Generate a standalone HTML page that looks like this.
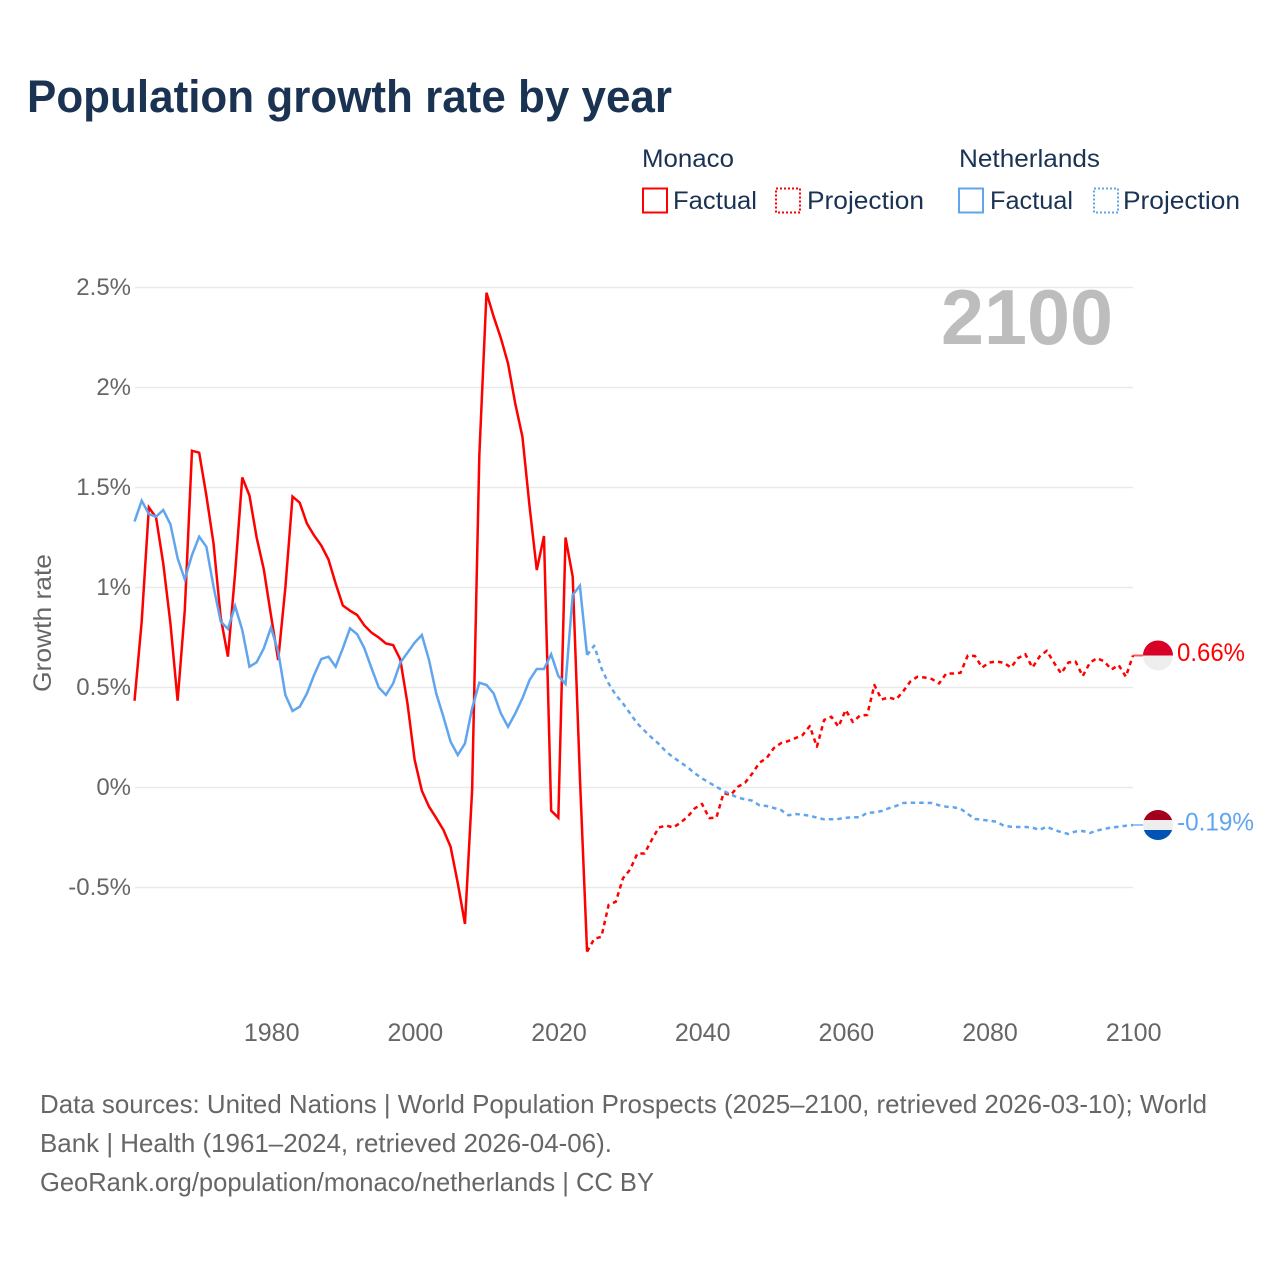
<!DOCTYPE html>
<html lang="en">
<head>
<meta charset="utf-8">
<title>Population growth rate by year</title>
<style>
html,body{margin:0;padding:0;background:#fff;}
svg{display:block;font-family:"Liberation Sans",sans-serif;}
</style>
</head>
<body>
<svg id="chart" xmlns="http://www.w3.org/2000/svg" width="1280" height="1280" viewBox="0 0 1280 1280">
  <defs>
    <clipPath id="flag-clip-mc"><circle id="flag-clip-mc-c" r="15"/></clipPath>
    <clipPath id="flag-clip-nl"><circle id="flag-clip-nl-c" r="15"/></clipPath>
  </defs>
  <text x="27" y="112" font-size="45" font-weight="700" fill="#1b3353" textLength="645" lengthAdjust="spacingAndGlyphs">Population growth rate by year</text>

  <g fill="#1b3353" font-size="25">
    <text x="642" y="167" textLength="92" lengthAdjust="spacingAndGlyphs">Monaco</text>
    <text x="959" y="167" textLength="141" lengthAdjust="spacingAndGlyphs">Netherlands</text>
    <rect x="643" y="188.5" width="24" height="24" fill="none" stroke="#ff0000" stroke-width="2"/>
    <text x="673" y="209" textLength="84" lengthAdjust="spacingAndGlyphs">Factual</text>
    <rect x="776" y="188.5" width="24" height="24" fill="none" stroke="#ff0000" stroke-width="2" stroke-dasharray="2 2"/>
    <text x="807" y="209" textLength="117" lengthAdjust="spacingAndGlyphs">Projection</text>
    <rect x="959" y="188.5" width="24" height="24" fill="none" stroke="#60a5ee" stroke-width="2"/>
    <text x="990" y="209" textLength="83" lengthAdjust="spacingAndGlyphs">Factual</text>
    <rect x="1094" y="188.5" width="24" height="24" fill="none" stroke="#60a5ee" stroke-width="2" stroke-dasharray="2 2"/>
    <text x="1123" y="209" textLength="117" lengthAdjust="spacingAndGlyphs">Projection</text>
  </g>

  <g id="grid"></g>
  <text x="941" y="344" font-size="78" font-weight="700" fill="#bdbdbd" textLength="172" lengthAdjust="spacingAndGlyphs">2100</text>
  <g id="ticks-y"></g>
  <g id="ticks-x"></g>
  <text transform="translate(51,692) rotate(-90)" font-size="25" fill="#666666" textLength="138" lengthAdjust="spacingAndGlyphs">Growth rate</text>
  <g id="series"></g>
  <g id="end-markers"></g>

  <g font-size="26" fill="#666666">
    <text x="40" y="1113" textLength="1167" lengthAdjust="spacingAndGlyphs">Data sources: United Nations | World Population Prospects (2025–2100, retrieved 2026-03-10); World</text>
    <text x="40" y="1152" textLength="572" lengthAdjust="spacingAndGlyphs">Bank | Health (1961–2024, retrieved 2026-04-06).</text>
    <text x="40" y="1191" textLength="614" lengthAdjust="spacingAndGlyphs">GeoRank.org/population/monaco/netherlands | CC BY</text>
  </g>
</svg>
<script>
const factualYears = [1961,1962,1963,1964,1965,1966,1967,1968,1969,1970,1971,1972,1973,1974,1975,1976,1977,1978,1979,1980,1981,1982,1983,1984,1985,1986,1987,1988,1989,1990,1991,1992,1993,1994,1995,1996,1997,1998,1999,2000,2001,2002,2003,2004,2005,2006,2007,2008,2009,2010,2011,2012,2013,2014,2015,2016,2017,2018,2019,2020,2021,2022,2023,2024];
const projectionYears = [2024,2025,2026,2027,2028,2029,2030,2031,2032,2033,2034,2035,2036,2037,2038,2039,2040,2041,2042,2043,2044,2045,2046,2047,2048,2049,2050,2051,2052,2053,2054,2055,2056,2057,2058,2059,2060,2061,2062,2063,2064,2065,2066,2067,2068,2069,2070,2071,2072,2073,2074,2075,2076,2077,2078,2079,2080,2081,2082,2083,2084,2085,2086,2087,2088,2089,2090,2091,2092,2093,2094,2095,2096,2097,2098,2099,2100];
const monacoFactual = [0.434,0.83,1.40,1.35,1.12,0.82,0.434,0.887,1.684,1.674,1.46,1.22,0.85,0.654,1.07,1.55,1.46,1.25,1.09,0.86,0.637,1.0,1.455,1.424,1.32,1.26,1.21,1.14,1.02,0.91,0.884,0.862,0.81,0.774,0.75,0.72,0.712,0.64,0.42,0.1375,-0.016,-0.096,-0.153,-0.212,-0.296,-0.478,-0.682,-0.0125,1.66,2.474,2.354,2.247,2.12,1.92,1.754,1.404,1.0875,1.2575,-0.116,-0.151,1.25,1.054,0.054,-0.821];
const monacoProjection = [-0.821,-0.757,-0.746,-0.587,-0.571,-0.454,-0.41,-0.33,-0.33,-0.262,-0.2,-0.19,-0.2,-0.176,-0.146,-0.104,-0.082,-0.153,-0.151,-0.028,-0.0375,0.004,0.024,0.07,0.124,0.147,0.197,0.222,0.232,0.247,0.262,0.307,0.204,0.3375,0.354,0.304,0.3875,0.3275,0.36,0.3625,0.5125,0.44,0.45,0.44,0.48,0.53,0.554,0.55,0.5425,0.52,0.57,0.57,0.574,0.66,0.6575,0.6,0.625,0.63,0.624,0.6,0.647,0.667,0.6,0.655,0.684,0.624,0.57,0.625,0.63,0.557,0.624,0.647,0.63,0.59,0.6125,0.554,0.66];
const netherlandsFactual = [1.33,1.434,1.3675,1.354,1.3875,1.316,1.146,1.04,1.1625,1.254,1.204,1.004,0.83,0.7925,0.9075,0.7875,0.604,0.626,0.696,0.8,0.68,0.4625,0.3825,0.404,0.47,0.5625,0.6425,0.654,0.604,0.696,0.796,0.766,0.696,0.596,0.5,0.4625,0.52,0.624,0.674,0.724,0.7625,0.6375,0.47,0.354,0.229,0.1625,0.22,0.396,0.524,0.5125,0.47,0.37,0.304,0.37,0.446,0.5375,0.5925,0.5925,0.666,0.5575,0.5175,0.9625,1.009,0.6625];
const netherlandsProjection = [0.6625,0.709,0.596,0.52,0.4625,0.42,0.37,0.32,0.284,0.249,0.2175,0.179,0.151,0.126,0.101,0.071,0.046,0.024,0.004,-0.0175,-0.034,-0.051,-0.059,-0.066,-0.089,-0.0925,-0.1025,-0.1125,-0.139,-0.1325,-0.136,-0.141,-0.151,-0.159,-0.159,-0.1575,-0.151,-0.149,-0.149,-0.126,-0.125,-0.1175,-0.104,-0.0925,-0.0775,-0.076,-0.076,-0.076,-0.0775,-0.089,-0.096,-0.099,-0.106,-0.1325,-0.1575,-0.161,-0.166,-0.171,-0.191,-0.196,-0.1975,-0.1975,-0.2,-0.2125,-0.196,-0.2125,-0.2225,-0.2325,-0.22,-0.2175,-0.2275,-0.215,-0.2075,-0.2,-0.196,-0.191,-0.1875];
const yTicks = [-0.5,0,0.5,1,1.5,2,2.5];
const yTickLabels = ['-0.5%','0%','0.5%','1%','1.5%','2%','2.5%'];
const xTicks = [1980,2000,2020,2040,2060,2080,2100];
const endLabels = ['0.66%','-0.19%'];

const NS = 'http://www.w3.org/2000/svg';
const RED = '#ff0000';
const BLUE = '#60a5ee';
const PLOT_LEFT = 135;
const PLOT_RIGHT = 1133;
const LINE_WIDTH = 2.5;

function xScale(year) { return 271 + (year - 1980) * (1133 - 271) / 120; }
function yScale(value) { return 787.5 - value * 200; }

function make(tag, attrs, parent) {
  const el = document.createElementNS(NS, tag);
  for (const k in attrs) el.setAttribute(k, attrs[k]);
  parent.appendChild(el);
  return el;
}

const gridGroup = document.getElementById('grid');
const yTickGroup = document.getElementById('ticks-y');
const xTickGroup = document.getElementById('ticks-x');
const seriesGroup = document.getElementById('series');
const markerGroup = document.getElementById('end-markers');

yTicks.forEach(function (t, i) {
  const line = make('line', {x1: PLOT_LEFT, x2: PLOT_RIGHT, y1: yScale(t), y2: yScale(t), stroke: '#e9e9e9', 'stroke-width': 1.5}, gridGroup);
  
  
  const label = make('text', {x: 131, y: yScale(t) + 7.5, 'text-anchor': 'end', 'font-size': 24, fill: '#666666'}, yTickGroup);
  label.textContent = yTickLabels[i];
  
  
});

xTicks.forEach(function (t) {
  const label = make('text', {x: xScale(t) + 0.7, y: 1041, 'text-anchor': 'middle', 'font-size': 25, fill: '#666666'}, xTickGroup);
  label.textContent = String(t);
  
  
});

function pathFor(years, values) {
  return values.map(function (v, i) {
    return (i ? 'L' : 'M') + xScale(years[i]).toFixed(2) + ' ' + yScale(v).toFixed(2);
  }).join(' ');
}

const monacoProjLine = make('path', {d: pathFor(projectionYears, monacoProjection), fill: 'none', stroke: RED, 'stroke-width': LINE_WIDTH, 'stroke-dasharray': '4.5 4', 'stroke-linejoin': 'round'}, seriesGroup);



const netherlandsProjLine = make('path', {d: pathFor(projectionYears, netherlandsProjection), fill: 'none', stroke: BLUE, 'stroke-width': LINE_WIDTH, 'stroke-dasharray': '4.5 4', 'stroke-linejoin': 'round'}, seriesGroup);



const monacoFactLine = make('path', {d: pathFor(factualYears, monacoFactual), fill: 'none', stroke: RED, 'stroke-width': LINE_WIDTH, 'stroke-linejoin': 'miter'}, seriesGroup);



const netherlandsFactLine = make('path', {d: pathFor(factualYears, netherlandsFactual), fill: 'none', stroke: BLUE, 'stroke-width': LINE_WIDTH, 'stroke-linejoin': 'miter'}, seriesGroup);



const FLAG_X = 1158;

const mcY = yScale(monacoProjection[monacoProjection.length - 1]);
const nlY = yScale(netherlandsProjection[netherlandsProjection.length - 1]);

const mcConnector = make('line', {x1: xScale(2100), x2: FLAG_X - 15, y1: mcY, y2: mcY, stroke: RED, 'stroke-width': 2, opacity: 0.65}, markerGroup);



const nlConnector = make('line', {x1: xScale(2100), x2: FLAG_X - 15, y1: nlY, y2: nlY, stroke: BLUE, 'stroke-width': 2, opacity: 0.65}, markerGroup);



const mcClip = document.getElementById('flag-clip-mc-c');
mcClip.setAttribute('cx', FLAG_X);
mcClip.setAttribute('cy', mcY);
const nlClip = document.getElementById('flag-clip-nl-c');
nlClip.setAttribute('cx', FLAG_X);
nlClip.setAttribute('cy', nlY);

const mcFlag = make('g', {'clip-path': 'url(#flag-clip-mc)'}, markerGroup);


make('rect', {x: FLAG_X - 15, y: mcY - 15, width: 30, height: 30, fill: '#eeeeee'}, mcFlag);
make('rect', {x: FLAG_X - 15, y: mcY - 15, width: 30, height: 15, fill: '#d80027'}, mcFlag);

const nlFlag = make('g', {'clip-path': 'url(#flag-clip-nl)'}, markerGroup);


make('rect', {x: FLAG_X - 15, y: nlY - 15, width: 30, height: 30, fill: '#eeeeee'}, nlFlag);
make('rect', {x: FLAG_X - 15, y: nlY - 15, width: 30, height: 10, fill: '#a2001d'}, nlFlag);
make('rect', {x: FLAG_X - 15, y: nlY + 5, width: 30, height: 10, fill: '#0052b4'}, nlFlag);

const mcLabel = make('text', {x: 1177, y: mcY + 5.5, 'font-size': 25, fill: RED, textLength: 68, lengthAdjust: 'spacingAndGlyphs'}, markerGroup);
mcLabel.textContent = endLabels[0];



const nlLabel = make('text', {x: 1177, y: nlY + 5.5, 'font-size': 25, fill: BLUE, textLength: 77, lengthAdjust: 'spacingAndGlyphs'}, markerGroup);
nlLabel.textContent = endLabels[1];


</script>
</body>
</html>
